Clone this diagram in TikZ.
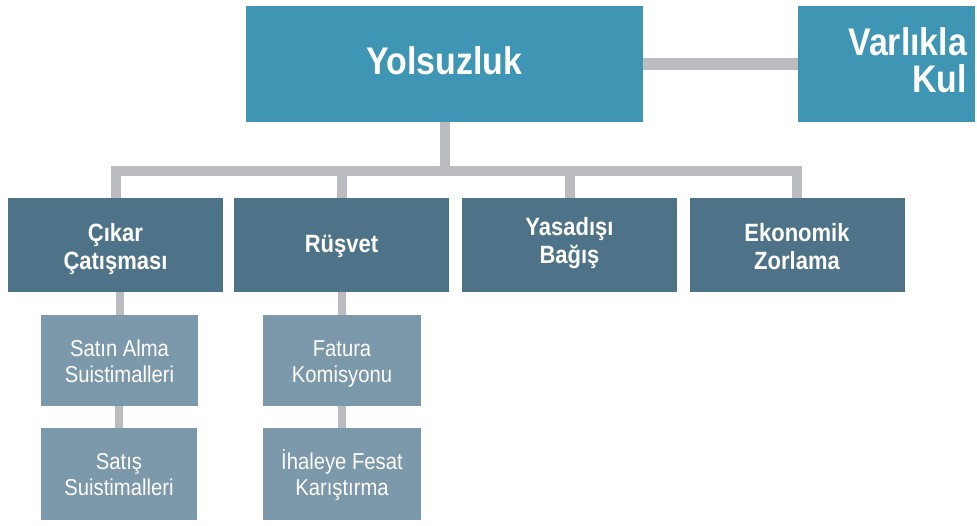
\documentclass[tikz,border=0pt]{standalone}
\usepackage{fontspec}
\setmainfont{Liberation Sans}[FakeStretch=0.88]
\definecolor{topblue}{HTML}{3F96B4}
\definecolor{midblue}{HTML}{4E7389}
\definecolor{lowblue}{HTML}{7C98AB}
\definecolor{linkgray}{HTML}{BBBCBF}
\begin{document}
\begin{tikzpicture}[x=1pt,y=-1pt,
  box/.style={rectangle, inner sep=0pt, outer sep=0pt, text=white, align=center},
  topbox/.style={box, fill=topblue, minimum height=116pt, text height=28pt,
    font=\fontsize{38.5}{37}\selectfont\bfseries},
  midbox/.style={box, fill=midblue, minimum width=215pt, minimum height=94pt,
    text height=48pt, text depth=0pt,
    font=\fontsize{25}{28}\selectfont\bfseries},
  lowbox/.style={box, fill=lowblue, minimum width=157pt, minimum height=91pt,
    text height=43pt, text depth=0pt,
    font=\fontsize{23}{26}\selectfont},
  bridge/.style={draw=linkgray, line width=12pt},
  trunk/.style={draw=linkgray, line width=10pt, line join=miter},
  sublink/.style={draw=linkgray, line width=8pt}]

% canvas
\fill[white] (0,0) rectangle (977,525);
\useasboundingbox (0,0) rectangle (977,525);

% top level
\node[topbox, minimum width=397pt, text depth=7.4pt] (yol) at (444.5,64) {Yolsuzluk};
\node[topbox, minimum width=177pt, text width=161pt, inner xsep=8pt, align=right,
  text height=28pt, text depth=46pt] (var) at (886.5,64) {Varlıkla\\Kul};

% second level
\node[midbox] (cik) at (115.5,245) {Çıkar\\Çatışması};
\node[midbox, text height=21pt, text depth=6pt] (rus) at (341.5,245) {Rüşvet};
\node[midbox, text depth=12pt] (yas) at (569.5,245) {Yasadışı\\Bağış};
\node[midbox] (eko) at (797,245)   {Ekonomik\\Zorlama};

% third level
\node[lowbox] (sat) at (119.5,360.5) {Satın Alma\\Suistimalleri};
\node[lowbox, minimum width=156pt, minimum height=92pt] (sts) at (119,474) {Satış\\Suistimalleri};
\node[lowbox, minimum width=158pt] (fat) at (342,360.5) {Fatura\\Komisyonu};
\node[lowbox, minimum width=158pt, minimum height=92pt] (iha) at (342,474) {İhaleye Fesat\\Karıştırma};

% connectors
\coordinate (bus) at (0,171);
\draw[bridge] (yol.east) -- (var.west);
\draw[trunk] (yol.south) -- (yol.south |- bus);
\foreach \n in {cik,rus,yas,eko}
  \draw[trunk] (\n.north) |- (yol.south |- bus);
\draw[sublink] (sat.north) -- (sat.north |- cik.south);
\draw[sublink] (sts.north) -- (sts.north |- sat.south);
\draw[sublink] (fat.north) -- (fat.north |- rus.south);
\draw[sublink] (iha.north) -- (iha.north |- fat.south);
\end{tikzpicture}
\end{document}
